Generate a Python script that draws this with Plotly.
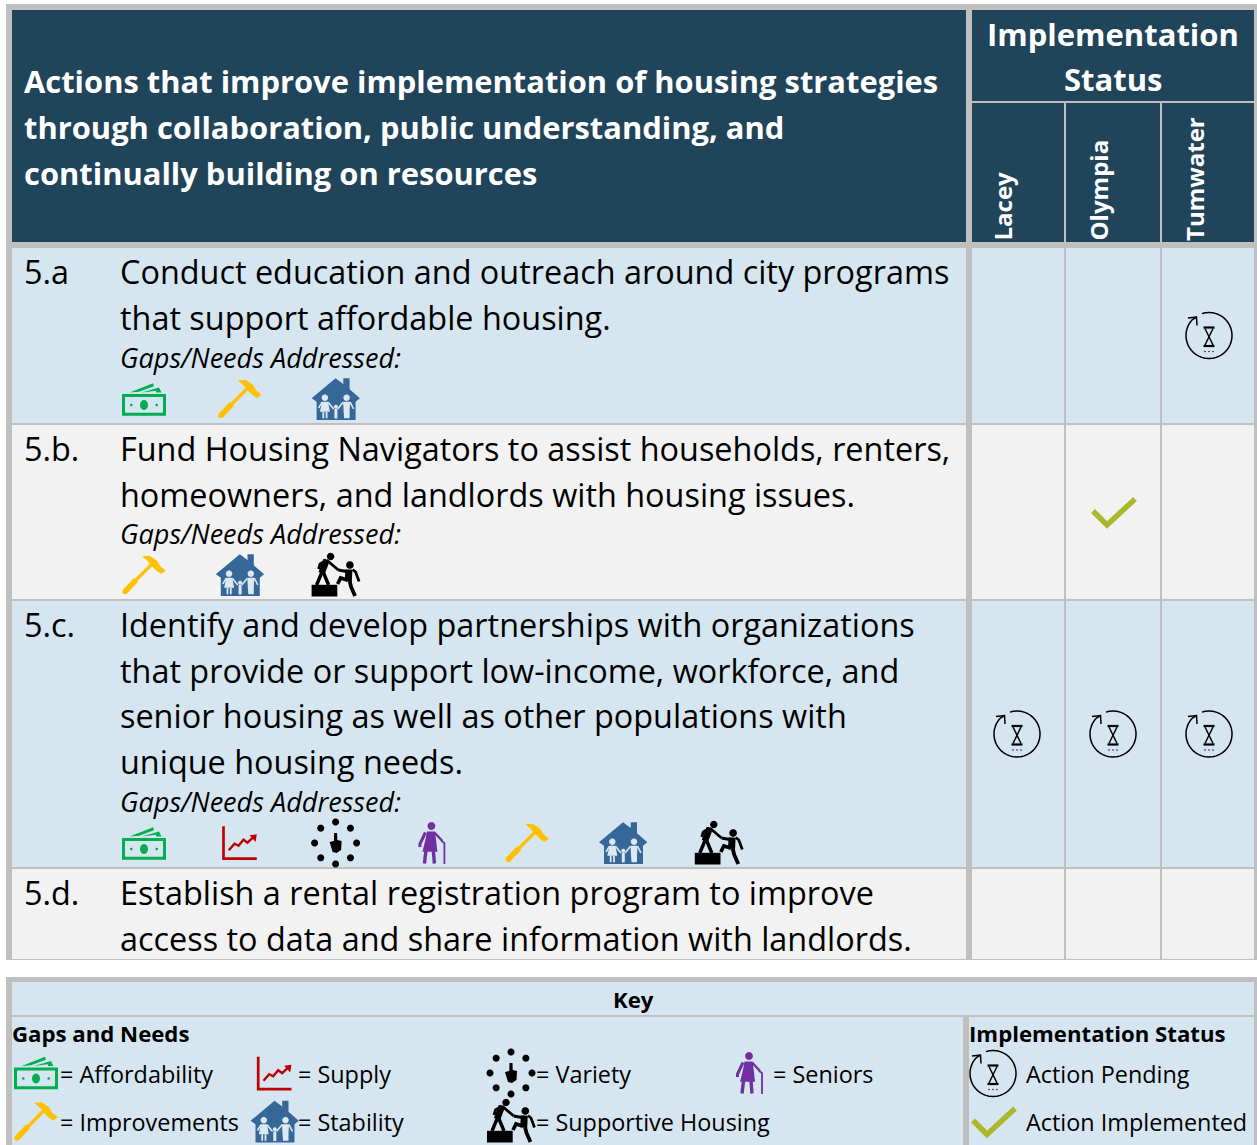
import math
import plotly.graph_objects as go

# ---------- content ----------
TITLE_LINES = ["Actions that improve implementation of housing strategies",
               "through collaboration, public understanding, and",
               "continually building on resources"]
STATUS_HEAD = ["Implementation", "Status"]
CITIES = ["Lacey", "Olympia", "Tumwater"]
ROW_IDS = ["5.a", "5.b.", "5.c.", "5.d."]
ROW_LINES = [
    ["Conduct education and outreach around city programs", "that support affordable housing."],
    ["Fund Housing Navigators to assist households, renters,", "homeowners, and landlords with housing issues."],
    ["Identify and develop partnerships with organizations", "that provide or support low-income, workforce, and",
     "senior housing as well as other populations with", "unique housing needs."],
    ["Establish a rental registration program to improve", "access to data and share information with landlords."],
]
GAPS_LABEL = "Gaps/Needs Addressed:"
ROW_GAPS = [
    ["Affordability", "Improvements", "Stability"],
    ["Improvements", "Stability", "Supportive Housing"],
    ["Affordability", "Supply", "Variety", "Seniors", "Improvements", "Stability", "Supportive Housing"],
    [],
]
ROW_STATUS = [
    [None, None, "pending"],
    [None, "done", None],
    ["pending", "pending", "pending"],
    [None, None, None],
]
KEY_TITLE = "Key"
KEY_LEFT = "Gaps and Needs"
KEY_RIGHT = "Implementation Status"
KEY_GAPS = ["Affordability", "Supply", "Variety", "Seniors", "Improvements", "Stability", "Supportive Housing"]
KEY_STATUS = [("pending", "Action Pending"), ("done", "Action Implemented")]

# ---------- styles ----------
FONT = "Open Sans"
GRID = "#BFBFBF"; DARK = "#204459"; BLUE = "#D6E6F0"; PALE = "#F2F2F2"
GREEN = "#00B050"; RED = "#C00000"; YEL = "#FFC000"; HOUSE = "#356799"; PURP = "#7030A0"; OLIVE = "#A9B92A"
BODY = 32.4; TITLE = 30.9; HEAD = 31; GAPSZ = 27.1; KEYSZ = 23.4; KEYB = 22.2; CITY = 24

shapes = []; annos = []

def rect(x0, y0, x1, y1, c):
    shapes.append(dict(type="rect", xref="x", yref="y", x0=x0, y0=y0, x1=x1, y1=y1,
                       fillcolor=c, line=dict(width=0), layer="above"))

def text(x, y, s, size, color="#000000", anchor="left", angle=0, yanchor="middle"):
    annos.append(dict(x=x, y=y, xref="x", yref="y", text=s, showarrow=False, xanchor=anchor, yanchor=yanchor,
                      textangle=angle, borderpad=0, borderwidth=0,
                      font=dict(family=FONT, size=size, color=color)))

def poly(cx, cy, pts, c):
    d = "M" + " L".join(f"{cx+p[0]:.2f},{cy+p[1]:.2f}" for p in pts) + " Z"
    shapes.append(dict(type="path", xref="x", yref="y", path=d, fillcolor=c, line=dict(width=0), layer="above"))

def line(cx, cy, pts, c, w, close=False):
    d = "M" + " L".join(f"{cx+p[0]:.2f},{cy+p[1]:.2f}" for p in pts) + (" Z" if close else "")
    shapes.append(dict(type="path", xref="x", yref="y", path=d, line=dict(color=c, width=w), layer="above"))

def ell(cx, cy, ox, oy, rx, ry, c):
    pts = [(ox+rx*math.cos(a*math.pi/12), oy+ry*math.sin(a*math.pi/12)) for a in range(24)]
    poly(cx, cy, pts, c)

def money(x, y):
    line(x, y, [(-20.5,-3.5),(20.5,-3.5),(20.5,15.2),(-20.5,15.2)], GREEN, 3, True)
    ell(x, y, 0, 6, 4, 5, GREEN)
    ell(x, y, -12.7, 6, 1.3, 1.3, GREEN); ell(x, y, 12.7, 6, 1.3, 1.3, GREEN)
    poly(x, y, [(-14.3,-6.5),(9,-15.7),(10,-12.8),(-5,-7.3)], GREEN)
    poly(x, y, [(-2,-6.5),(15,-11.5),(17.5,-6.5),(12,-6.5),(12,-8.3)], GREEN)

def supply(x, y):
    line(x, y, [(-16.3,-16.7),(-16.3,15.6),(17,15.6)], RED, 2.7)
    line(x, y, [(-11,7.3),(-5.3,0.7),(-1.3,2.7),(3.7,-3.3),(7.7,-0.3),(13,-5.3)], RED, 2.4)
    poly(x, y, [(9.7,-7.7),(17,-8.7),(15.7,-1)], RED)

def variety(x, y):
    for a in range(8):
        ell(x, y, 21*math.cos(a*math.pi/4), 21*math.sin(a*math.pi/4), 3.5, 3.5, "#000000")
    poly(x, y, [(-1.5,-10),(1.5,-10),(1.7,-3),(6,-2),(5.5,7),(1,10),(-3,9),(-6,-1),(-1.7,-2)], "#000000")

def seniors(x, y):
    ell(x, y, 0, -17, 3.9, 3.9, PURP)
    poly(x, y, [(-4.5,-11.5),(3.5,-11.5),(4.7,-3),(6,8.7),(-9,8.7),(-6,-3)], PURP)
    line(x, y, [(-6,-10.5),(-11.5,1),(-11.5,4)], PURP, 3)
    line(x, y, [(3,-10.5),(11,-2)], PURP, 2.4)
    line(x, y, [(-5.5,8),(-7,20.5)], PURP, 3.4)
    line(x, y, [(2,8),(3,20.5)], PURP, 3.4)
    line(x, y, [(10,-2),(13,0),(13,21)], PURP, 1.8)

def hammer(x, y):
    line(x, y, [(-19,16.5),(-8,5)], YEL, 5.5)
    ell(x, y, -19, 16.5, 2.7, 2.7, YEL)
    line(x, y, [(-9,6),(8,-11)], YEL, 3.2)
    poly(x, y, [(-2,-18.7),(5.7,-19.3),(13,-14.3),(16.3,-8.7),(21.7,-4.3),(17.3,-1),(12.3,-4.3),(9,-7.7),(2.3,-15.3)], YEL)

def stability(x, y):
    L = "#DCE9F1"
    poly(x, y, [(0,-20.7),(7.7,-15),(7.7,-20.7),(14,-20.7),(14,-9.7),(24.3,-0.7),(20,2.7),(20,21),(-19,21),(-19,2.7),(-24,-0.7)], HOUSE)
    ell(x, y, -10.7, -1.3, 3.2, 3.2, L)
    poly(x, y, [(-13.5,2.7),(-7.5,2.7),(-5.7,12.7),(-15.7,12.7)], L)
    line(x, y, [(-12.3,12.7),(-12.3,19.3)], L, 1.8); line(x, y, [(-9,12.7),(-9,19.3)], L, 1.8)
    line(x, y, [(-13.5,3.2),(-17,9)], L, 1.6); line(x, y, [(-7.5,3.2),(-2,10)], L, 1.6)
    ell(x, y, 0.3, 7.7, 2, 2, L)
    line(x, y, [(0.3,10),(0.3,19.5)], L, 3)
    ell(x, y, 11, -1.3, 3.2, 3.2, L)
    poly(x, y, [(7.5,2.7),(14.5,2.7),(14,12),(14,19.3),(8.5,19.3),(8,12)], L)
    line(x, y, [(7.5,3.2),(2,10)], L, 1.6); line(x, y, [(14.5,3.2),(18,10)], L, 1.6)

def helper(x, y):
    K = "#000000"
    rect(x-24, y+9.8, x+1.7, y+21.5, K)
    ell(x, y, -5, -18.5, 3.7, 3.7, K)
    line(x, y, [(-9,-15),(-14,-1.8)], K, 6.5)
    line(x, y, [(-9,-15),(-15.5,-11),(-17,-6)], K, 2.8)
    line(x, y, [(-9,-15),(2.7,-5)], K, 2.8)
    line(x, y, [(-14,-2),(-19,10)], K, 3.4)
    line(x, y, [(-12,-2),(-7,10)], K, 3.4)
    ell(x, y, 14.3, -10, 3.8, 3.8, K)
    line(x, y, [(13.3,-5.5),(12.7,6.5)], K, 7)
    line(x, y, [(11,-3.5),(2.7,-5)], K, 2.8)
    line(x, y, [(17,-5.5),(20,-3),(23.5,6.5)], K, 2.8)
    line(x, y, [(12,5),(5,3),(2,9)], K, 3.6)
    line(x, y, [(14,6),(15.5,12),(19.5,21)], K, 3.8)

def pending(x, y):
    K = "#000000"
    pts = [(23*math.cos(math.radians(a)), 23*math.sin(math.radians(a))) for a in range(-108, 200, 4)]
    line(x, y, pts, K, 1.5)
    arr = [(23*math.cos(math.radians(a)), 23*math.sin(math.radians(a))) for a in range(196, 228, 4)] + [(-12.5,-18.5)]
    line(x, y, arr, K, 1.5)
    line(x, y, [(-21,-17.5),(-12.5,-18.5),(-12,-10)], K, 1.5)
    line(x, y, [(-5.5,-8),(5.5,-8)], K, 2.2); line(x, y, [(-5.5,10.5),(5.5,10.5)], K, 2.2)
    line(x, y, [(-4,-7),(4,9.5)], K, 1.5); line(x, y, [(4,-7),(-4,9.5)], K, 1.5)
    for o in (-4, 0, 4):
        ell(x, y, o, 16, 0.7, 0.7, K)

def done(x, y):
    line(x, y, [(-20,-1),(-6,13),(22,-13)], OLIVE, 5.5)

ICONS = {"Affordability": money, "Supply": supply, "Variety": variety, "Seniors": seniors,
         "Improvements": hammer, "Stability": stability, "Supportive Housing": helper,
         "pending": pending, "done": done}

# ---------- table frame ----------
rect(6, 4, 1257, 960, GRID)
rect(12, 10, 966, 242, DARK)
rect(972, 10, 1254, 101, DARK)
COL_X = [(972, 1064), (1066, 1160), (1162, 1254)]
COL_MID = [1017, 1113, 1209]
for a, b in COL_X:
    rect(a, 103, b, 242, DARK)
ROW_Y = [(248, 423), (425, 599), (601, 867), (869, 959)]
ROW_FILL = [BLUE, PALE, BLUE, PALE]
for (y0, y1), f in zip(ROW_Y, ROW_FILL):
    rect(12, y0, 966, y1, f)
    for a, b in COL_X:
        rect(a, y0, b, y1, f)

# ---------- header text ----------
for s, y in zip(TITLE_LINES, (80.5, 126.5, 172.5)):
    text(24, y, f"<b>{s}</b>", TITLE, "#FFFFFF")
for s, y in zip(STATUS_HEAD, (34, 79)):
    text(1113, y, f"<b>{s}</b>", HEAD, "#FFFFFF", anchor="center")
for c, m in zip(CITIES, COL_MID):
    text(m - 15, 241, f"<b>{c}</b>", CITY, "#FFFFFF", anchor="center", angle=-90, yanchor="bottom")

# ---------- rows ----------
GAP_Y = [357, 533, 801, None]
for i, (y0, y1) in enumerate(ROW_Y):
    text(24, y0 + 23, ROW_IDS[i], BODY)
    for j, s in enumerate(ROW_LINES[i]):
        text(120, y0 + 23 + j*45.5, s, BODY)
    if GAP_Y[i]:
        text(120, GAP_Y[i], f"<i>{GAPS_LABEL}</i>", GAPSZ)
    for k, g in enumerate(ROW_GAPS[i]):
        ICONS[g](144 + 95.8*k, y1 - 24)
    for m, st in zip(COL_MID, ROW_STATUS[i]):
        if st:
            ICONS[st](m, (y0+y1)/2)

# ---------- key ----------
rect(6, 977, 1257, 1145, GRID)
rect(12, 982, 1254, 1015, BLUE)
rect(12, 1017, 963, 1145, BLUE)
rect(969, 1017, 1254, 1145, BLUE)
text(633, 999, f"<b>{KEY_TITLE}</b>", KEYB, anchor="center")
text(12, 1033, f"<b>{KEY_LEFT}</b>", KEYB)
text(969, 1033, f"<b>{KEY_RIGHT}</b>", KEYB)
KEY_POS = [(36, 1072.5, 60, 1074), (274.5, 1073.5, 298, 1074), (511, 1073, 536, 1074), (749, 1073, 773, 1074),
           (36, 1121.5, 60, 1122), (274.5, 1121.5, 298, 1122), (511, 1121, 536, 1122)]
for name, (ix, iy, tx, ty) in zip(KEY_GAPS, KEY_POS):
    ICONS[name](ix, iy)
    text(tx, ty, f"= {name}", KEYSZ)
for (st, label), (iy, ty) in zip(KEY_STATUS, ((1073.5, 1074), (1121.5, 1122))):
    ICONS[st](993, iy)
    text(1026, ty, label, KEYSZ)

fig = go.Figure()
fig.update_layout(width=1257, height=1145, autosize=False, margin=dict(l=0, r=0, t=0, b=0, pad=0),
                  paper_bgcolor="#FFFFFF", plot_bgcolor="#FFFFFF", showlegend=False,
                  xaxis=dict(range=[0, 1257], visible=False, fixedrange=True),
                  yaxis=dict(range=[1145, 0], visible=False, fixedrange=True),
                  shapes=shapes, annotations=annos)
fig.write_html("out.html", config={"displayModeBar": False},
               post_script="document.body.style.margin='0';document.body.style.overflow='hidden';")
